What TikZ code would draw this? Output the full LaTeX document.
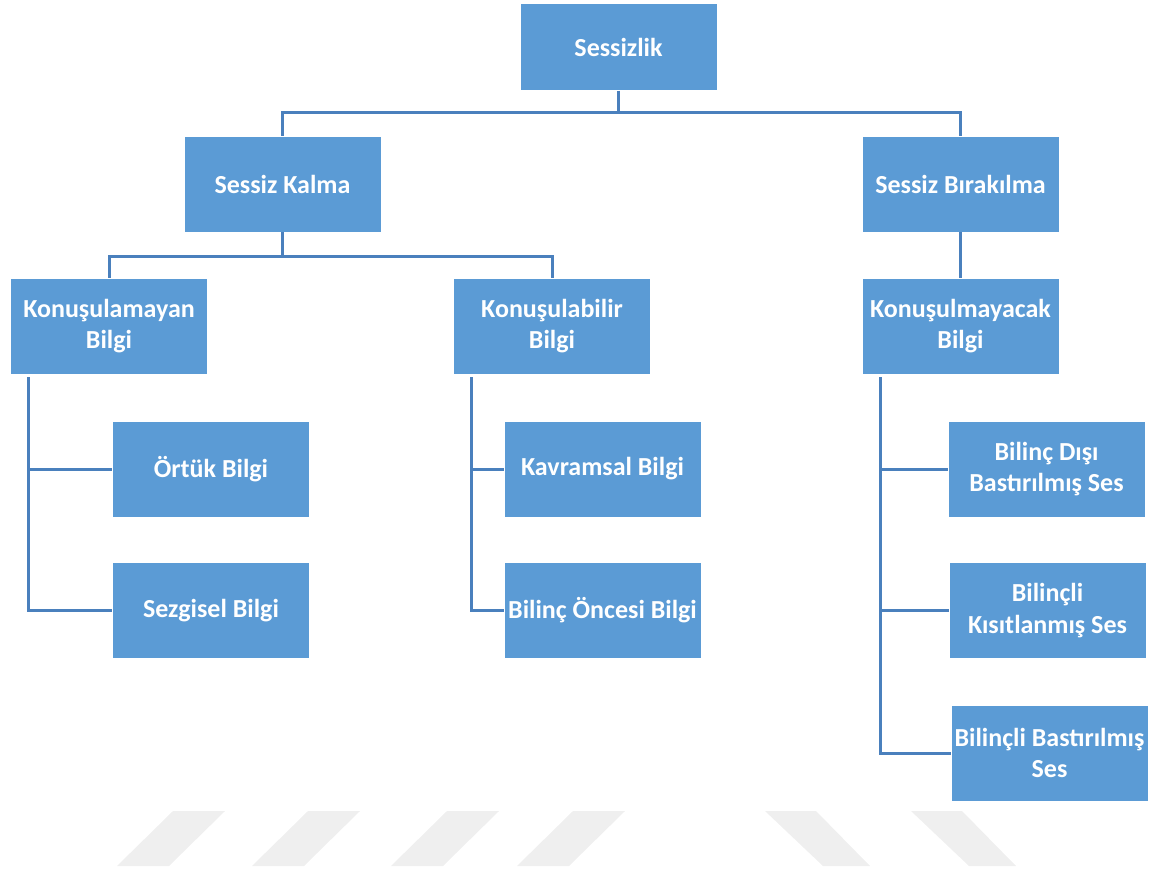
\documentclass[tikz,border=0pt]{standalone}
\usepackage{fontspec}
\setmainfont{Carlito}
\usepackage{tikz}
\usepackage{xcolor}
\definecolor{boxblue}{HTML}{5B9BD5}
\definecolor{lineblue}{HTML}{4A80BD}
\definecolor{wmgray}{HTML}{EFEFEF}

\begin{document}
\begin{tikzpicture}[x=1pt, y=-1pt,
  box/.style={draw=white, line width=0.6pt, fill=boxblue, text=white, inner sep=0pt,
    minimum width=197pt, minimum height=96pt, align=center,
    font=\fontsize{26}{31.5}\selectfont\bfseries},
  conn/.style={draw=lineblue, line width=3pt}]

  \useasboundingbox (0,0) rectangle (1157,871);

  \foreach \bx in {117,252,391,517}
    \fill[wmgray] (\bx,866) -- (\bx+52,866) -- (\bx+108,811) -- (\bx+56,811) -- cycle;
  \foreach \tx in {765,911}
    \fill[wmgray] (\tx,811) -- (\tx+51,811) -- (\tx+105,866) -- (\tx+58,866) -- cycle;

  \node[box, minimum height=87pt] (s) at (618.5,47) {Sessizlik};
  \node[box] (sk) at (282.5,184) {Sessiz Kalma};
  \node[box] (sb) at (960.5,184) {Sessiz Bırakılma};
  \node[box] (kb) at (109,326) {Konuşulamayan\\Bilgi};
  \node[box] (kab) at (552,326) {Konuşulabilir\\Bilgi};
  \node[box] (kmb) at (960.5,326) {Konuşulmayacak\\Bilgi};
  \node[box] (ob) at (211,469) {Örtük Bilgi};
  \node[box] (sgb) at (211,610.5) {Sezgisel Bilgi};
  \node[box] (kvb) at (602.5,469) {Kavramsal Bilgi};
  \node[box] (bob) at (602.5,610.5) {Bilinç Öncesi Bilgi};
  \node[box] (bds) at (1046.5,469) {Bilinç Dışı\\Bastırılmış Ses};
  \node[box] (bks) at (1047.5,610.5) {Bilinçli\\Kısıtlanmış Ses};
  \node[box] (bbs) at (1049.5,753) {Bilinçli Bastırılmış\\Ses};

  \draw[conn] (s.south) -- ++(0,22) -| (sk.north);
  \draw[conn] (s.south) -- ++(0,22) -| (sb.north);
  \draw[conn] (sk.south) -- ++(0,24) -| (kb.north);
  \draw[conn] (sk.south) -- ++(0,24) -| (kab.north);
  \draw[conn] (sb.south) -- (kmb.north);

  \draw[conn] ([xshift=18pt, yshift=-3pt]kb.south west) |- (ob.west);
  \draw[conn] ([xshift=18pt, yshift=-3pt]kb.south west) |- (sgb.west);
  \draw[conn] ([xshift=18pt, yshift=-3pt]kab.south west) |- (kvb.west);
  \draw[conn] ([xshift=18pt, yshift=-3pt]kab.south west) |- (bob.west);
  \draw[conn] ([xshift=19pt, yshift=-3pt]kmb.south west) |- (bds.west);
  \draw[conn] ([xshift=19pt, yshift=-3pt]kmb.south west) |- (bks.west);
  \draw[conn] ([xshift=19pt, yshift=-3pt]kmb.south west) |- (bbs.west);
\end{tikzpicture}
\end{document}
